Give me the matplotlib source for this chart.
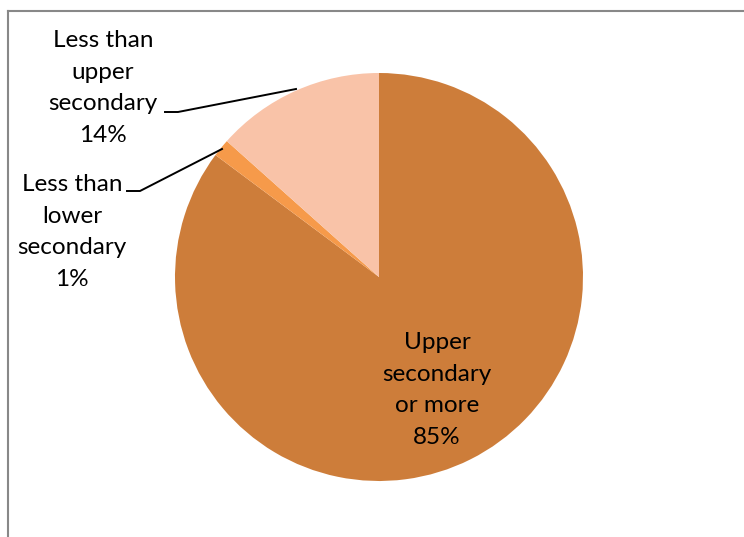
import matplotlib
matplotlib.use("Agg")
import matplotlib.pyplot as plt

categories = ["Upper\nsecondary\nor more", "Less than\nlower\nsecondary", "Less than\nupper\nsecondary"]
values = [85.2, 1.4, 13.4]
pct_labels = ["85%", "1%", "14%"]
colors = ["#CD7D3A", "#F69A4A", "#F9C3A8"]

W, H = 744, 537
fig = plt.figure(figsize=(W / 100, H / 100), dpi=100)
ax = fig.add_axes([0, 0, 1, 1])
ax.set_xlim(0, W)
ax.set_ylim(0, H)
ax.set_aspect("equal")
ax.axis("off")

def Y(y):
    return H - y

ax.pie(values, colors=colors, startangle=90, counterclock=False,
       center=(379, Y(277)), radius=204, frame=True,
       wedgeprops=dict(linewidth=0))
ax.set_xlim(0, W)
ax.set_ylim(0, H)
ax.axis("off")

font = dict(family=["Lato", "DejaVu Sans"], fontsize=17.5, color="black",
            ha="center", va="center", linespacing=1.64)
label_pos = [(437, 390), (72, 232), (103, 88)]
for cat, pct, (x, y) in zip(categories, pct_labels, label_pos):
    ax.text(x, Y(y), cat + "\n" + pct, **font)

# leader lines
ax.plot([165, 178, 296], [Y(112), Y(112), Y(89)], color="black", lw=1.4)
ax.plot([127, 140, 222], [Y(191), Y(191), Y(149)], color="black", lw=1.4)

# chart border (extends past right/bottom edge)
ax.plot([7.5, 7.5], [Y(11), Y(540)], color="#888888", lw=1.5, clip_on=False)
ax.plot([7.5, 750], [Y(11), Y(11)], color="#888888", lw=1.5, clip_on=False)

fig.savefig("out.png", dpi=100)
